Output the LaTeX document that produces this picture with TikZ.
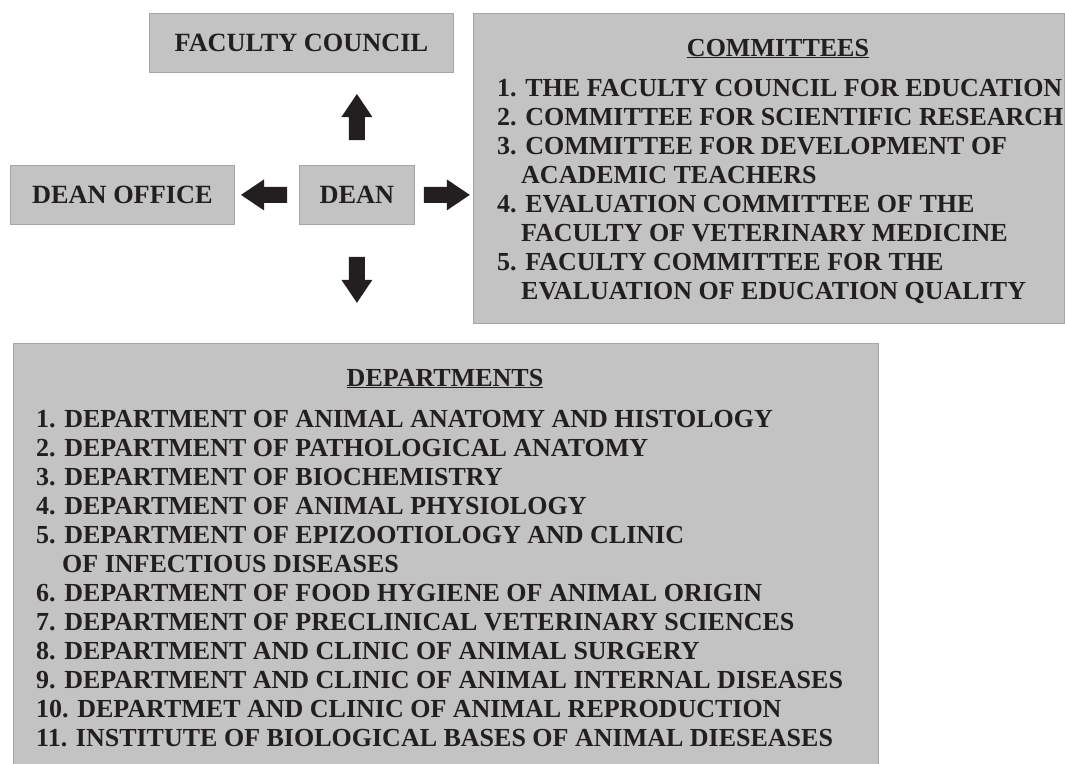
\documentclass[tikz,border=0pt]{standalone}
\usepackage{fontspec}
\setmainfont{Liberation Serif}
\usetikzlibrary{calc}
\definecolor{boxgray}{HTML}{C3C3C3}
\definecolor{edgegray}{HTML}{A6A6A6}
\definecolor{ink}{HTML}{231F20}
\begin{document}
\begin{tikzpicture}[x=1pt,y=-1pt,
  box/.style={fill=boxgray, draw=edgegray, line width=0.8pt, inner sep=0pt,
              anchor=north west, text=ink, font=\fontsize{26.3}{29}\bfseries\selectfont},
  item/.style={inner sep=0pt, anchor=base west, text=ink,
               font=\fontsize{26}{29}\bfseries\selectfont},
  head/.style={inner sep=0pt, anchor=base, text=ink,
               font=\fontsize{26}{29}\bfseries\selectfont},
  blockarrow/.pic={\fill[ink] (0,-8) -- (23,-8) -- (23,-15.5) -- (46,0)
                   -- (23,15.5) -- (23,8) -- (0,8) -- cycle;}]
\useasboundingbox (0,0) rectangle (1065,763);

% upper row of boxes
\node[box, minimum width=304pt, minimum height=59pt] (council) at (149,13) {FACULTY COUNCIL};
\node[box, minimum width=224pt, minimum height=59pt] (office) at (10,165) {DEAN OFFICE};
\node[box, minimum width=115pt, minimum height=59pt] (dean) at (299,165) {DEAN};

% list boxes
\node[box, minimum width=591pt, minimum height=310pt] (committees) at (473,13) {};
\node[box, minimum width=865pt, minimum height=425pt] (departments) at (13,343) {};

% block arrows leaving the dean
\pic[rotate=90]  at ($(dean.north)+(0,-25)$) {blockarrow};
\pic[rotate=-90] at ($(dean.south)+(0,32)$)  {blockarrow};
\pic[rotate=180] at ($(dean.west)+(-12,0)$)  {blockarrow};
\pic              at ($(dean.east)+(9,0)$)    {blockarrow};

% committees
\node[head] (comhead) at (778,56) {\underline{COMMITTEES}};
\node[item] (c1) at (497,96)  {1. THE FACULTY COUNCIL FOR EDUCATION};
\node[item] (c2) at (497,125) {2. COMMITTEE FOR SCIENTIFIC RESEARCH};
\node[item] (c3) at (497,154) {3. COMMITTEE FOR DEVELOPMENT OF};
\node[item] (c3b) at (521,183) {ACADEMIC TEACHERS};
\node[item] (c4) at (497,212) {4. EVALUATION COMMITTEE OF THE};
\node[item] (c4b) at (521,241) {FACULTY OF VETERINARY MEDICINE};
\node[item] (c5) at (497,270) {5. FACULTY COMMITTEE FOR THE};
\node[item] (c5b) at (521,299) {EVALUATION OF EDUCATION QUALITY};

% departments
\node[head] (dephead) at (445,386) {\underline{DEPARTMENTS}};
\node[item] (d1)  at (36,427) {1. DEPARTMENT OF ANIMAL ANATOMY AND HISTOLOGY};
\node[item] (d2)  at (36,456) {2. DEPARTMENT OF PATHOLOGICAL ANATOMY};
\node[item] (d3)  at (36,485) {3. DEPARTMENT OF BIOCHEMISTRY};
\node[item] (d4)  at (36,514) {4. DEPARTMENT OF ANIMAL PHYSIOLOGY};
\node[item] (d5)  at (36,543) {5. DEPARTMENT OF EPIZOOTIOLOGY AND CLINIC};
\node[item] (d5b) at (62,572) {OF INFECTIOUS DISEASES};
\node[item] (d6)  at (36,601) {6. DEPARTMENT OF FOOD HYGIENE OF ANIMAL ORIGIN};
\node[item] (d7)  at (36,630) {7. DEPARTMENT OF PRECLINICAL VETERINARY SCIENCES};
\node[item] (d8)  at (36,659) {8. DEPARTMENT AND CLINIC OF ANIMAL SURGERY};
\node[item] (d9)  at (36,688) {9. DEPARTMENT AND CLINIC OF ANIMAL INTERNAL DISEASES};
\node[item] (d10) at (36,717) {10. DEPARTMET AND CLINIC OF ANIMAL REPRODUCTION};
\node[item] (d11) at (36,746) {11. INSTITUTE OF BIOLOGICAL BASES OF ANIMAL DIESEASES};
\end{tikzpicture}
\end{document}
